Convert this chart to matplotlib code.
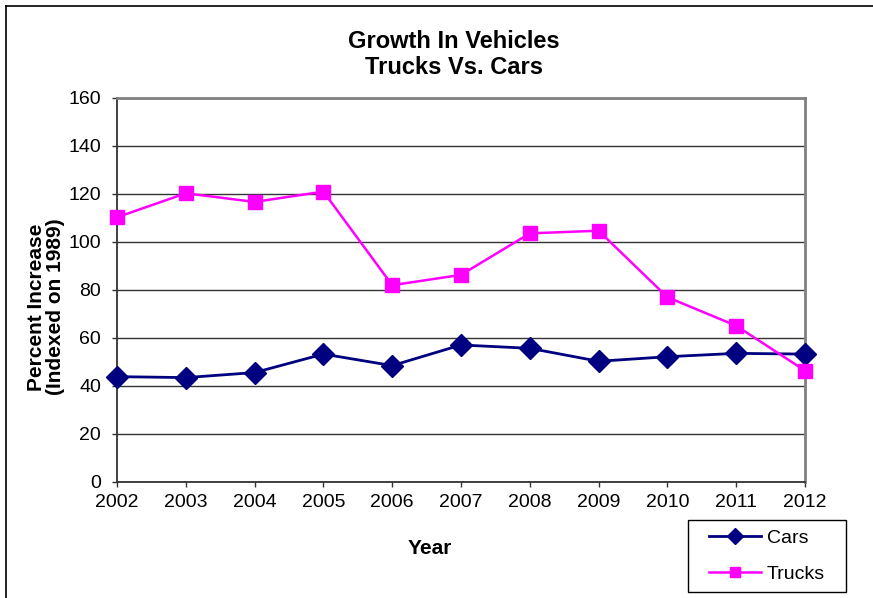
import matplotlib
matplotlib.use("Agg")
import matplotlib.pyplot as plt
from matplotlib.lines import Line2D
from matplotlib.patches import Rectangle

plt.rcParams['font.family'] = ['Liberation Sans', 'DejaVu Sans']

years = [2002, 2003, 2004, 2005, 2006, 2007, 2008, 2009, 2010, 2011, 2012]
cars = [43.9, 43.5, 45.6, 53.3, 48.5, 57.1, 55.7, 50.3, 52.2, 53.6, 53.3]
trucks = [110.3, 120.3, 116.7, 121.0, 82.0, 86.3, 103.6, 104.7, 77.0, 65.1, 46.4]
y_ticks = [0, 20, 40, 60, 80, 100, 120, 140, 160]

W, H = 873, 598
fig = plt.figure(figsize=(W / 100, H / 100), dpi=100)
ax = fig.add_axes([117 / W, 1 - 482 / H, 688 / W, 384 / H])

# outer frame (only left and top edges are inside the picture)
fig.add_artist(Line2D([6 / W, 6 / W], [0, 1 - 6 / H], color='black', lw=1.2))
fig.add_artist(Line2D([6 / W, 1], [1 - 6 / H, 1 - 6 / H], color='black', lw=1.2))

ax.plot(years, cars, color='#000080', lw=2, marker='D', markersize=11,
        label='Cars', zorder=3, clip_on=False)
ax.plot(years, trucks, color='#FF00FF', lw=1.8, marker='s', markersize=10,
        label='Trucks', zorder=4, clip_on=False)

ax.set_xlim(2002, 2012)
ax.set_ylim(0, 160)
ax.set_xticks(years)
ax.set_yticks(y_ticks)
ax.tick_params(axis='both', labelsize=14, length=3.5, width=1, direction='out',
               color='#333333')
ax.tick_params(axis='y', pad=8)
ax.tick_params(axis='x', pad=5)
ax.grid(axis='y', color='#333333', lw=1)
ax.set_axisbelow(True)

for side in ['top', 'right']:
    ax.spines[side].set_color('#808080')
    ax.spines[side].set_linewidth(2)
for side in ['left', 'bottom']:
    ax.spines[side].set_color('#333333')
    ax.spines[side].set_linewidth(1.3)

fig.text(454 / W, 1 - 41 / H, 'Growth In Vehicles', ha='center', va='center',
         fontsize=17, fontweight='bold')
fig.text(454 / W, 1 - 68 / H, 'Trucks Vs. Cars', ha='center', va='center',
         fontsize=17, fontweight='bold')
fig.text(430 / W, 1 - 548 / H, 'Year', ha='center', va='center',
         fontsize=15, fontweight='bold')
fig.text(46 / W, 1 - 307 / H, 'Percent Increase\n(Indexed on 1989)', ha='center',
         va='center', rotation=90, fontsize=15, fontweight='bold', linespacing=1.05)

# legend box drawn by hand so its size matches the reference
fig.add_artist(Rectangle((688 / W, 1 - 592 / H), 158 / W, 72 / H, transform=fig.transFigure,
                         fill=False, edgecolor='black', lw=1))
fig.legend(loc='center', bbox_to_anchor=(767 / W, 1 - 556 / H), fontsize=14,
           frameon=False, handlelength=2.7, handletextpad=0.3, borderpad=0.3,
           labelspacing=0.95, markerscale=0.7)

fig.savefig('out.png', dpi=100)
